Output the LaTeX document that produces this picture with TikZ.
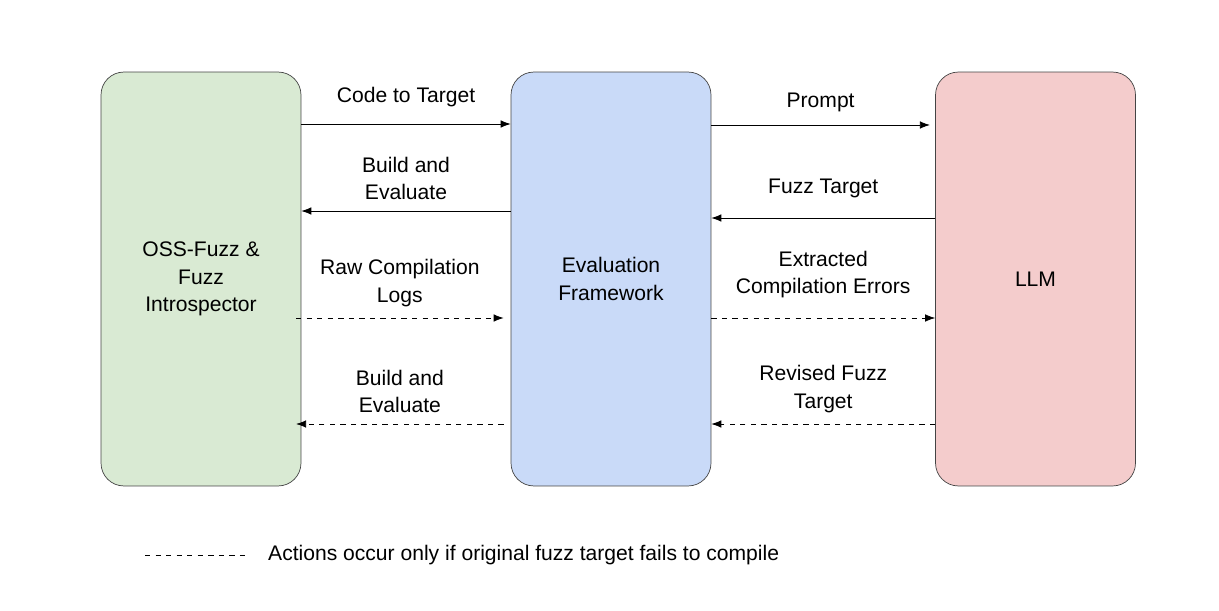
\documentclass[tikz,border=0pt]{standalone}
\usepackage{fontspec}
\setmainfont{Liberation Sans}
\usetikzlibrary{arrows.meta,positioning}
\definecolor{ossgreen}{HTML}{D9EAD3}
\definecolor{evalblue}{HTML}{C9DAF8}
\definecolor{llmred}{HTML}{F4CCCC}
\definecolor{edge}{HTML}{444444}

\begin{document}
\begin{tikzpicture}[
    x=0.02cm, y=-0.02cm,
    % block and connector styles
    block/.style={
        rectangle,
        draw=edge,
        thin,
        minimum width=4cm,
        minimum height=8.28cm,
        align=center,
        rounded corners=13pt,
        font=\fontsize{12}{15.5}\selectfont
    },
    lbl/.style={align=center, font=\fontsize{12}{15.5}\selectfont},
    flow/.style={-{Latex[length=2mm,width=1.5mm]}, thin},
    retry/.style={flow, dashed}
]
\useasboundingbox (0,0) rectangle (1219,611);

% Blocks
\node[block, fill=ossgreen] (oss) at (201,279) {OSS-Fuzz \&\\Fuzz\\Introspector};
\node[block, fill=evalblue] (eval) at (611,279) {Evaluation\\Framework};
\node[block, fill=llmred] (llm) at (1035.5,279) {LLM};

% Connectors, left side
\draw[flow] (oss.east |- 0,124) -- node[lbl, above=6pt] {Code to Target} (eval.west |- 0,124);
\draw[flow] (eval.west |- 0,211) -- node[lbl, above=3pt] {Build and\\Evaluate} (oss.east |- 0,211);
\draw[retry] ([xshift=-3pt]oss.east |- 0,318) -- node[lbl, above=3pt] {Raw Compilation\\Logs} ([xshift=-4pt]eval.west |- 0,318);
\draw[retry] ([xshift=-4pt]eval.west |- 0,424) -- node[lbl, above=3pt] {Build and\\Evaluate} ([xshift=-3pt]oss.east |- 0,424);

% Connectors, right side
\draw[flow] (eval.east |- 0,125) -- node[lbl, above=4pt] {Prompt} ([xshift=-3pt]llm.west |- 0,125);
\draw[flow] (llm.west |- 0,218) -- node[lbl, above=8pt] {Fuzz Target} (eval.east |- 0,218);
\draw[retry] (eval.east |- 0,318) -- node[lbl, above=8pt] {Extracted\\Compilation Errors} (llm.west |- 0,318);
\draw[retry] (llm.west |- 0,424) -- node[lbl, above=3pt] {Revised Fuzz\\Target} (eval.east |- 0,424);

% Legend
\coordinate (keyA) at (145,555);
\coordinate (keyB) at (246,555);
\draw[dashed, thin] (keyA) -- (keyB);
\node[lbl, anchor=west] (keytext) at (262,555) {Actions occur only if original fuzz target fails to compile};
\end{tikzpicture}
\end{document}
